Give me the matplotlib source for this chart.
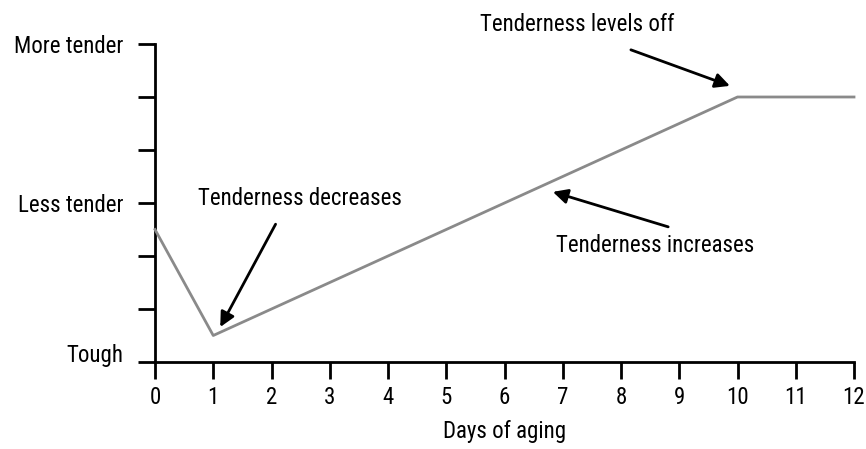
import matplotlib
matplotlib.use("Agg")
import matplotlib.pyplot as plt

plt.rcParams['font.family'] = ['Roboto Condensed', 'Archivo Narrow', 'DejaVu Sans']

# data
days = [0, 1, 10, 12]
tenderness = [2.5, 0.5, 5.0, 5.0]
x_ticks = list(range(0, 13))
y_ticks = [0, 1, 2, 3, 4, 5, 6]
y_labels = ['Tough', '', '', 'Less tender', '', '', 'More tender']

fig = plt.figure(figsize=(8.66, 4.49), dpi=100)
ax = fig.add_axes([155 / 866, 87 / 449, 699 / 866, 318 / 449])

ax.plot(days, tenderness, color='#8a8a8a', lw=2, clip_on=False, zorder=3)

ax.set_xlim(0, 12)
ax.set_ylim(0, 6)
ax.set_xticks(x_ticks)
ax.set_yticks(y_ticks)
ax.set_yticklabels(y_labels)

for side in ['top', 'right']:
    ax.spines[side].set_visible(False)
for side in ['left', 'bottom']:
    ax.spines[side].set_linewidth(2)

ax.tick_params(axis='both', length=12, width=2, labelsize=16.5, direction='out')
ax.tick_params(axis='x', pad=5)
ax.tick_params(axis='y', pad=11)
ax.get_yticklabels()[0].set_va('baseline')

ax.set_xlabel('Days of aging', fontsize=16.5, labelpad=8)

# annotations
arrow_kw = dict(arrowstyle='-|>', mutation_scale=22, lw=2, color='black',
                shrinkA=0, shrinkB=0)
ax.annotate('', xy=(1.12, 0.66), xytext=(2.07, 2.60), arrowprops=arrow_kw,
            annotation_clip=False)
ax.annotate('', xy=(9.87, 5.21), xytext=(8.17, 5.89), arrowprops=arrow_kw,
            annotation_clip=False)
ax.annotate('', xy=(6.83, 3.21), xytext=(8.81, 2.55), arrowprops=arrow_kw,
            annotation_clip=False)

ax.text(2.49, 3.08, 'Tenderness decreases', fontsize=16.5, ha='center', va='center')
ax.text(7.24, 6.36, 'Tenderness levels off', fontsize=16.5, ha='center', va='center',
        clip_on=False)
ax.text(8.58, 2.19, 'Tenderness increases', fontsize=16.5, ha='center', va='center')

fig.savefig('out.png', dpi=100)
